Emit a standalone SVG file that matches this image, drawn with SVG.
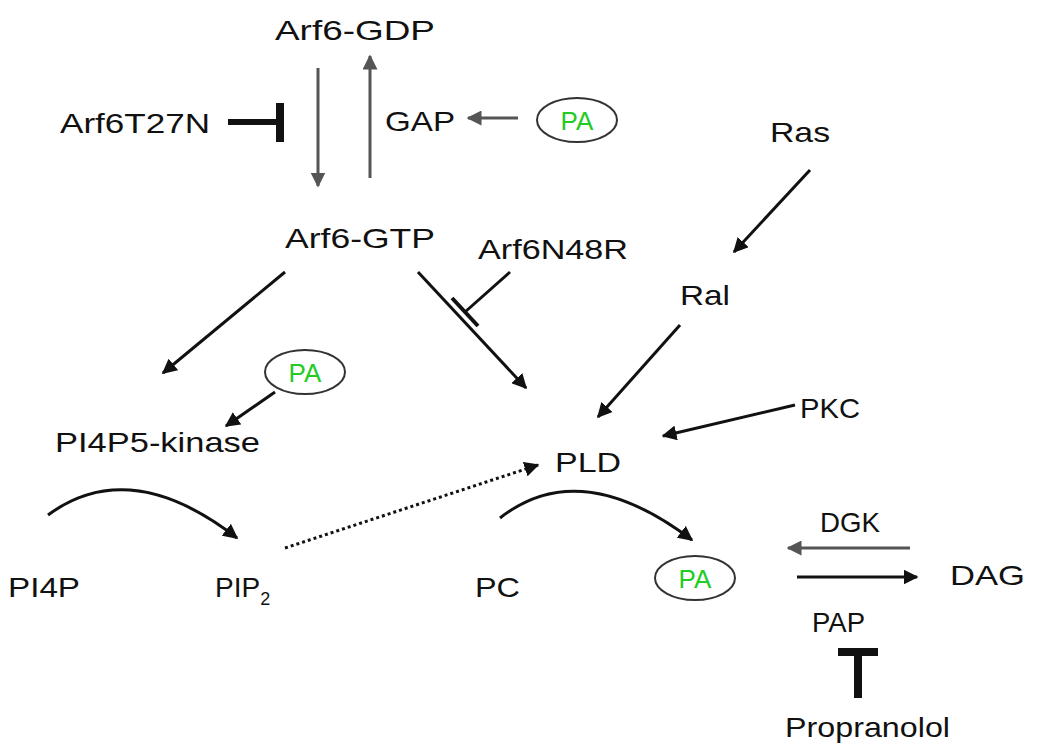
<svg xmlns="http://www.w3.org/2000/svg" width="1050" height="750" viewBox="0 0 1050 750">
<style>
text{font-family:"Liberation Sans",Arial,sans-serif;font-size:28px;fill:#111}
.pa{fill:#22cc22;font-size:26px;text-anchor:middle}
.e{fill:none;stroke:#333;stroke-width:2}
.a{stroke:#111;stroke-width:3;fill:none;marker-end:url(#ah)}
.g{stroke:#555;stroke-width:3;fill:none;marker-end:url(#ahg)}
.inh{stroke:#111;fill:none}
</style>
<defs>
<marker id="ah" viewBox="0 0 10 10" refX="9" refY="5" markerWidth="5" markerHeight="5" orient="auto"><path d="M0,0L10,5L0,10z" fill="#111"/></marker>
<marker id="ahg" viewBox="0 0 10 10" refX="9" refY="5" markerWidth="5" markerHeight="5" orient="auto"><path d="M0,0L10,5L0,10z" fill="#555"/></marker>
</defs>
<g id="connectors">
<line class="g" x1="318" y1="68" x2="318" y2="186"/>
<line class="g" x1="370" y1="178" x2="370" y2="56"/>
<path class="inh" d="M228,122H278" stroke-width="6"/>
<path class="inh" d="M280,103V142" stroke-width="8"/>
<line class="g" x1="518" y1="118" x2="468" y2="118"/>
<line class="a" x1="810" y1="170" x2="734" y2="252"/>
<line class="a" x1="285" y1="272" x2="163" y2="373"/>
<line class="a" x1="418" y1="272" x2="526" y2="388"/>
<path class="inh" d="M510,272L465,312" stroke-width="3"/>
<path class="inh" d="M452,298L478,326" stroke-width="4"/>
<line class="a" x1="275" y1="392" x2="226" y2="426"/>
<line class="a" x1="680" y1="325" x2="598" y2="417"/>
<line class="a" x1="795" y1="405" x2="663" y2="436"/>
<line class="a" x1="285" y1="548" x2="538" y2="465" stroke-dasharray="3,3"/>
<path class="a" d="M48,515Q130,455 237,538"/>
<path class="a" d="M500,518Q580,455 692,540"/>
<line class="g" x1="910" y1="548" x2="788" y2="548"/>
<line class="a" x1="797" y1="577" x2="917" y2="577"/>
<path class="inh" d="M858,698V652" stroke-width="8"/>
<path class="inh" d="M838,652H878" stroke-width="8"/>
</g>
<g id="arf6gdp"><text x="275" y="40" textLength="160" lengthAdjust="spacingAndGlyphs">Arf6-GDP</text></g>
<g id="arf6t27n"><text x="60" y="133" textLength="150" lengthAdjust="spacingAndGlyphs">Arf6T27N</text></g>
<g id="gap"><text x="385" y="131" textLength="70" lengthAdjust="spacingAndGlyphs">GAP</text></g>
<g id="pa1"><ellipse class="e" cx="577" cy="120" rx="40" ry="22"/><text class="pa" x="577" y="130">PA</text></g>
<g id="ras"><text x="770" y="142" textLength="60" lengthAdjust="spacingAndGlyphs">Ras</text></g>
<g id="arf6gtp"><text x="285" y="248" textLength="150" lengthAdjust="spacingAndGlyphs">Arf6-GTP</text></g>
<g id="arf6n48r"><text x="478" y="259" textLength="150" lengthAdjust="spacingAndGlyphs">Arf6N48R</text></g>
<g id="ral"><text x="680" y="305" textLength="50" lengthAdjust="spacingAndGlyphs">Ral</text></g>
<g id="pa2"><ellipse class="e" cx="305" cy="372" rx="40" ry="22"/><text class="pa" x="305" y="382">PA</text></g>
<g id="pi4p5k"><text x="55" y="452" textLength="205" lengthAdjust="spacingAndGlyphs">PI4P5-kinase</text></g>
<g id="pkc"><text x="800" y="418" textLength="60" lengthAdjust="spacingAndGlyphs">PKC</text></g>
<g id="pld"><text x="555" y="472" textLength="66" lengthAdjust="spacingAndGlyphs">PLD</text></g>
<g id="pi4p"><text x="8" y="597" textLength="72" lengthAdjust="spacingAndGlyphs">PI4P</text></g>
<g id="pip2"><text x="215" y="597">PIP<tspan font-size="18" dy="8">2</tspan></text></g>
<g id="pc"><text x="475" y="597" textLength="45" lengthAdjust="spacingAndGlyphs">PC</text></g>
<g id="pa3"><ellipse class="e" cx="695" cy="578" rx="40" ry="22"/><text class="pa" x="695" y="588">PA</text></g>
<g id="dgk"><text x="820" y="532" textLength="60" lengthAdjust="spacingAndGlyphs">DGK</text></g>
<g id="dag"><text x="950" y="585" textLength="75" lengthAdjust="spacingAndGlyphs">DAG</text></g>
<g id="pap"><text x="812" y="632" textLength="53" lengthAdjust="spacingAndGlyphs">PAP</text></g>
<g id="propranolol"><text x="785" y="737" textLength="165" lengthAdjust="spacingAndGlyphs">Propranolol</text></g>
</svg>
